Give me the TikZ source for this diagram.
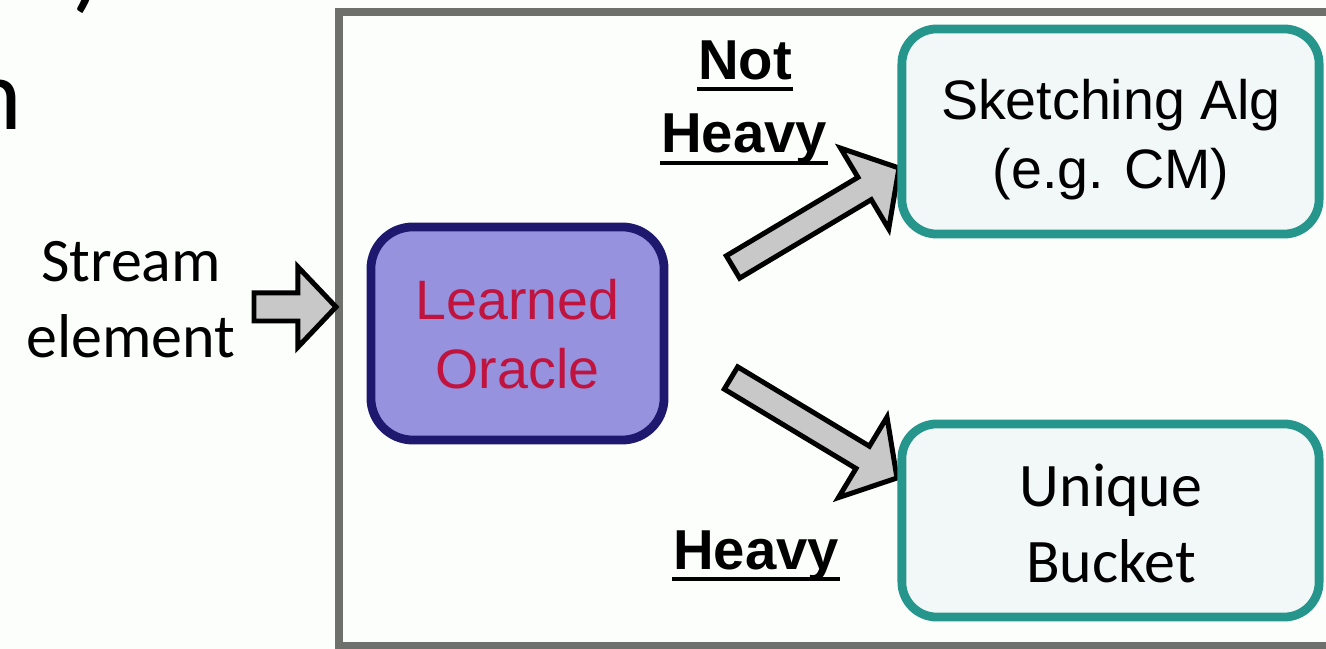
\documentclass[tikz,border=0pt]{standalone}
\usepackage{fontspec}
\setmainfont{Liberation Sans}
\newfontfamily\carlito{Carlito}
\usetikzlibrary{calc}
\definecolor{tealc}{RGB}{38,150,140}
\definecolor{boxfill}{RGB}{242,248,248}
\definecolor{orfill}{RGB}{150,146,222}
\definecolor{ordraw}{RGB}{30,24,110}
\definecolor{ortext}{RGB}{192,20,62}
\definecolor{framec}{RGB}{110,112,108}
\definecolor{arrfill}{RGB}{200,200,200}
\definecolor{bgc}{RGB}{252,254,252}
\newcommand\blkarrow[5]{%
  \path ($(#2)!#5!(#1)$) coordinate (bk);
  \draw[blk] ($(#1)!#3!90:(#2)$) -- ($(bk)!#3!90:(#2)$) -- ($(bk)!#4!90:(#2)$) -- (#2)
     -- ($(bk)!#4!-90:(#2)$) -- ($(bk)!#3!-90:(#2)$) -- ($(#1)!#3!-90:(#2)$) -- cycle;}
\begin{document}
\begin{tikzpicture}[x=0.01cm,y=-0.01cm,
  blk/.style={fill=arrfill,draw=black,line width=1.42pt,line join=miter},
  tealbox/.style={draw=tealc,fill=boxfill,line width=2.5pt,rounded corners=0.35cm,minimum width=4.17cm},
  orbox/.style={draw=ordraw,fill=orfill,line width=2.5pt,rounded corners=0.42cm,minimum width=2.93cm,minimum height=2.13cm},
  arialtxt/.style={inner sep=0pt,align=center,font=\fontsize{15.8}{19.6}\selectfont},
  caltxt/.style={inner sep=0pt,align=center,font=\carlito\fontsize{17.6}{21.6}\selectfont},
  lbl/.style={inner sep=0pt,anchor=base,font=\fontsize{16}{20}\selectfont\bfseries},
  uline/.style={line width=1.15pt},
  frag/.style={inner sep=0pt,anchor=base east,font=\carlito\fontsize{29}{35}\selectfont},
  framel/.style={draw=framec,line width=2.3pt}]
\useasboundingbox (0,0) rectangle (1326,649);
\clip (0,0) rectangle (1326,649);
\fill[bgc] (0,0) rectangle (1326,649);
% title fragments
\node[frag] (f1) at (104,0) {9)};
\node[frag] (f2) at (23,130) {n};
% frame
\draw[framel] (339,12) rectangle (1350,646);
% stream element
\node[caltxt] (stream) at (131,300) {Stream\\element};
\coordinate (s0) at (254,307);
\coordinate (s1) at (336,307);
\blkarrow{s0}{s1}{0.14cm}{0.40cm}{0.38cm}
% branch arrows
\coordinate (a0) at (733,267);
\coordinate (a1) at (899,168);
\coordinate (b0) at (731,378);
\coordinate (b1) at (897,478);
\blkarrow{a0}{a1}{0.13cm}{0.47cm}{0.40cm}
\blkarrow{b0}{b1}{0.13cm}{0.47cm}{0.40cm}
% boxes
\node[orbox] (oracle) at (517.5,333.5) {};
\node[arialtxt,text=ortext] (oraclet) at (517.5,334.5) {Learned\\Oracle};
\node[tealbox,minimum height=2.05cm] (sketch) at (1110.5,131.5) {};
\node[arialtxt] (sketcht) at (1111,140) {Sketching Alg\\(e.g. CM)};
\node[tealbox,minimum height=1.93cm] (unique) at (1110.5,520.5) {};
\node[caltxt] (uniquet) at (1111,523) {Unique\\Bucket};
% labels
\node[lbl] (nh1) at (745,80) {Not};
\node[lbl] (nh2) at (744,153) {Heavy};
\node[lbl] (hv) at (756,570) {Heavy};
\draw[uline] ([yshift=-0.09cm]nh1.base west) -- ([yshift=-0.09cm]nh1.base east);
\draw[uline] ([yshift=-0.10cm]nh2.base west) -- ([yshift=-0.10cm]nh2.base east);
\draw[uline] ([yshift=-0.09cm]hv.base west) -- ([yshift=-0.09cm]hv.base east);
\end{tikzpicture}
\end{document}
